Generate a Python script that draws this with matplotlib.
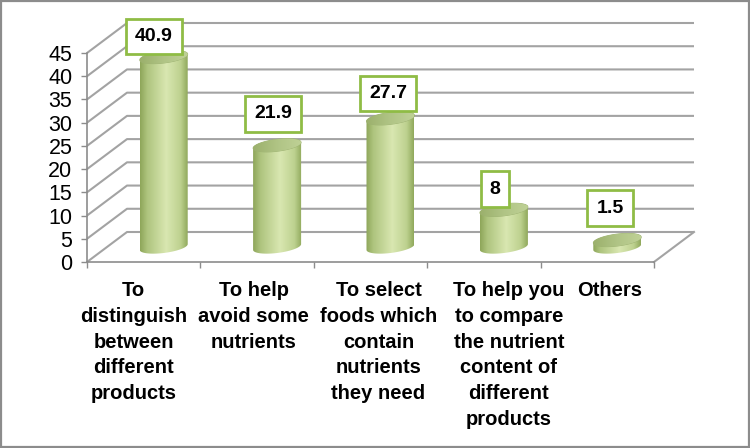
import numpy as np
import matplotlib
matplotlib.use("Agg")
import matplotlib.pyplot as plt
from matplotlib.patches import Polygon, Rectangle
from matplotlib.path import Path
from matplotlib.transforms import ScaledTranslation
from matplotlib.colors import LinearSegmentedColormap

# ---- data ----
categories = [
    "To\ndistinguish\nbetween\ndifferent\nproducts",
    "To help\navoid some\nnutrients",
    "To select\nfoods which\ncontain\nnutrients\nthey need",
    "To help you\nto compare\nthe nutrient\ncontent of\ndifferent\nproducts",
    "Others",
]
values = [40.9, 21.9, 27.7, 8, 1.5]
yticks = [0, 5, 10, 15, 20, 25, 30, 35, 40, 45]

# ---- layout (pixels) ----
W, H = 750, 448
PX_X = 113.4          # px per category
PX_Y = 209 / 45.0     # px per value unit
X0, Y0 = 87, 262      # front-left bottom corner in px
DEPTH_PX = (40, 30)   # 3D depth offset in px
XMAX, YMAX = 5.6, 50
label_dx_px = [-10, -4, -2.5, -9, -7.3]
label_dy_px = [20.6, 31.3, 24.9, 20.8, 32]
cat_dx_px = [-10, -3.5, 8, 25, 12.5]
cat_pad_px = 19

DX = DEPTH_PX[0] / PX_X
DY = DEPTH_PX[1] / PX_Y

fig = plt.figure(figsize=(W / 100, H / 100), dpi=100)
ax = fig.add_axes([X0 / W, (H - Y0) / H, XMAX * PX_X / W, YMAX * PX_Y / H])
ax.set_xlim(0, XMAX)
ax.set_ylim(0, YMAX)
ax.patch.set_alpha(0)
for s in ax.spines.values():
    s.set_visible(False)

grid_c = "#a3a3a3"
axis_c = "#8c8c8c"
n = len(values)

# walls / gridlines
for v in yticks:
    ax.plot([0, DX, n + DX], [v, v + DY, v + DY], color=grid_c, lw=1.5,
            clip_on=False, zorder=1, solid_capstyle="butt")
ax.plot([n, n + DX], [0, DY], color=grid_c, lw=1.5, clip_on=False, zorder=1)
ax.plot([0, n], [0, 0], color=axis_c, lw=1.2, clip_on=False, zorder=2)
ax.plot([0, 0], [0, yticks[-1]], color=axis_c, lw=1.2, clip_on=False, zorder=2)

# ticks
ax.set_yticks(yticks)
ax.set_yticklabels([str(t) for t in yticks], fontsize=15.5, family="Liberation Sans")
ax.tick_params(axis="y", direction="out", length=4.5, width=1, color=axis_c, pad=6)
ax.set_xticks(np.arange(n + 1))
ax.set_xticklabels([])
ax.tick_params(axis="x", direction="out", length=4.5, width=1, color=axis_c)

# category labels (below front axis)
for i, c in enumerate(categories):
    tr = ax.transData + ScaledTranslation(cat_dx_px[i] / 100, -cat_pad_px / 100,
                                          fig.dpi_scale_trans)
    ax.text(i + 0.5, 0, c, transform=tr, ha="center", va="top",
            multialignment="center", fontsize=14.5, fontweight="bold",
            family="Liberation Sans", linespacing=1.45, clip_on=False)

# cylinders
body_cmap = LinearSegmentedColormap.from_list(
    "body", [(0, "#8ea65a"), (0.15, "#aec47e"), (0.55, "#d9e7b1"),
             (0.85, "#bdd18f"), (1.0, "#90a95c")])
top_cmap = LinearSegmentedColormap.from_list(
    "top", [(0, "#9bb06c"), (0.5, "#b0c485"), (1.0, "#bfd196")])

a = 24 / PX_X
b = 6 / PX_Y
shear = 0.12 * PX_X / PX_Y   # data-y per data-x
grad = np.linspace(0, 1, 200)[None, :]

def ell(cx, cy, t):
    x = cx + a * np.cos(t)
    y = cy + b * np.sin(t) + shear * a * np.cos(t)
    return x, y

def label_box(x0, y0, width, height, mutation_size):
    px = 0.46 * mutation_size
    py = 0.47 * mutation_size
    x1, y1 = x0 - px, y0 - py
    x2, y2 = x0 + width + px, y0 + height + py
    return Path([(x1, y1), (x2, y1), (x2, y2), (x1, y2), (x1, y1)], closed=True)

for i, v in enumerate(values):
    cx = i + 0.5 + DX / 2
    yb = DY / 2
    yt = v + DY / 2
    t1 = np.linspace(np.pi, 2 * np.pi, 60)
    t2 = np.linspace(0, np.pi, 60)
    xb, ybb = ell(cx, yb, t1)
    xt, ytt = ell(cx, yt, t2)
    poly = np.column_stack([np.r_[xb, xt], np.r_[ybb, ytt]])
    body = Polygon(poly, closed=True, facecolor="none", edgecolor="none", zorder=3)
    ax.add_patch(body)
    ext = [cx - a, cx + a, yb - b - shear * a - 1, yt + b + shear * a + 1]
    im = ax.imshow(grad, cmap=body_cmap, extent=ext, aspect="auto",
                   origin="lower", zorder=3, interpolation="bilinear")
    im.set_clip_path(body)
    # top cap
    t = np.linspace(0, 2 * np.pi, 120)
    xe, ye = ell(cx, yt, t)
    cap = Polygon(np.column_stack([xe, ye]), closed=True, facecolor="none",
                  edgecolor="#9db271", lw=0.6, zorder=4)
    ax.add_patch(cap)
    im2 = ax.imshow(grad, cmap=top_cmap, extent=ext, aspect="auto",
                    origin="lower", zorder=4, interpolation="bilinear")
    im2.set_clip_path(cap)

    # data label
    lx = cx + label_dx_px[i] / PX_X
    ly = yt + label_dy_px[i] / PX_Y
    ax.text(lx, ly, f"{v:g}", ha="center", va="center", fontsize=14,
            fontweight="bold", family="Liberation Sans", zorder=6,
            bbox=dict(boxstyle=label_box, facecolor="white",
                      edgecolor="#8fbc45", lw=2.0))

ax.set_xlim(0, XMAX)
ax.set_ylim(0, YMAX)

# outer border
fig.patches.append(Rectangle((0.0015, 0.0025), 0.997, 0.995, transform=fig.transFigure,
                             facecolor="none", edgecolor="#8c8c8c", lw=1.6))

fig.savefig("out.png", dpi=100)
